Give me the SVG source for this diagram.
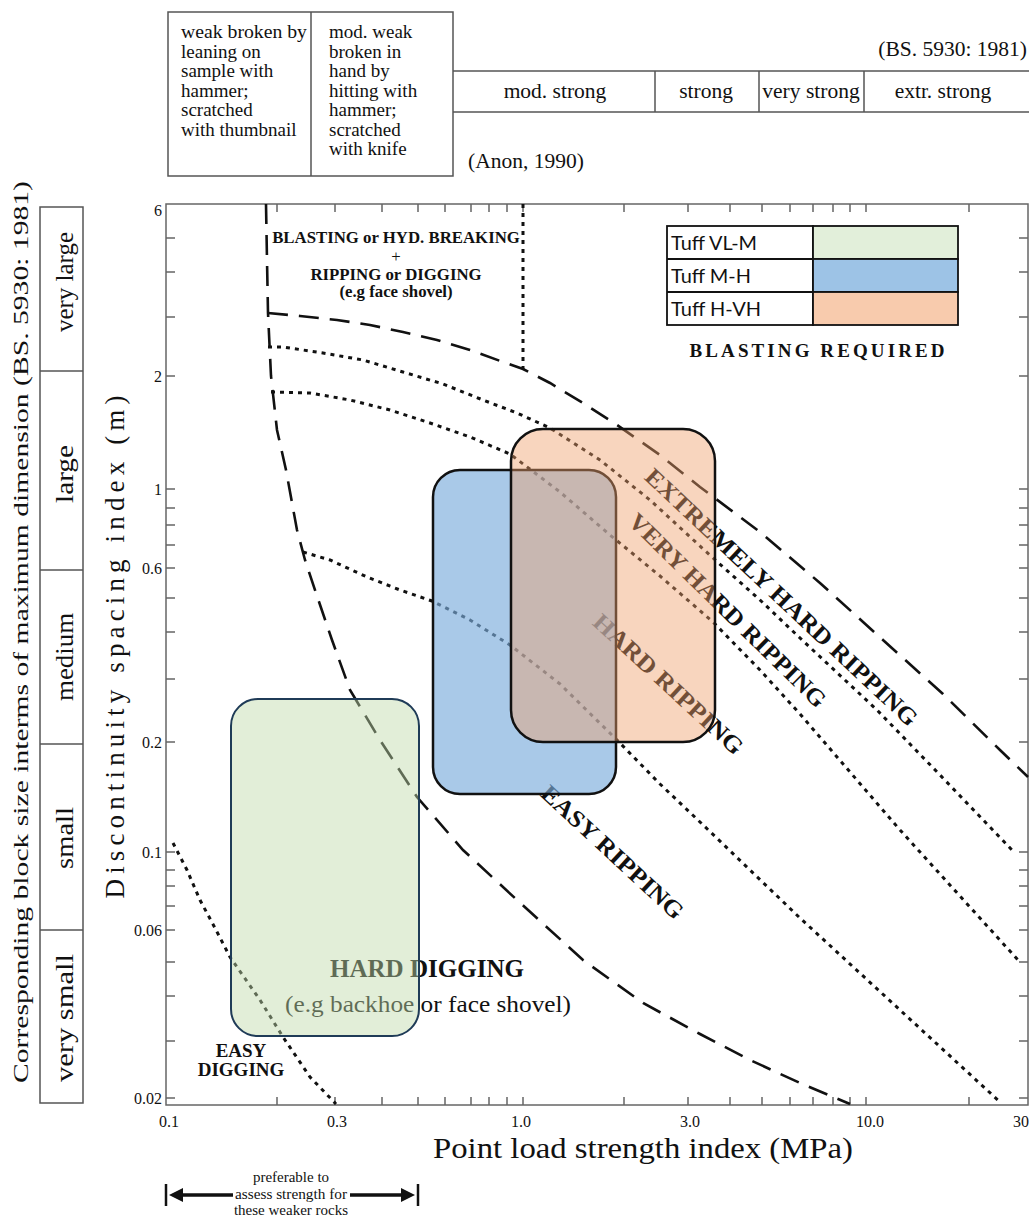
<svg xmlns="http://www.w3.org/2000/svg" width="1029" height="1225" viewBox="0 0 1029 1225">
<style>
text { font-family: "Liberation Serif", "Times New Roman", serif; fill: #111; }
.sans { font-family: Lato, "Liberation Sans", sans-serif; }
.grid { stroke: #555; stroke-width: 1.5; fill: none; }
.tick { stroke: #666; stroke-width: 1.5; fill: none; }
.dash { fill: none; stroke: #111; stroke-width: 2.6; stroke-dasharray: 20 11; }
.dot { fill: none; stroke: #111; stroke-width: 3; stroke-dasharray: 4 5; }
.b { font-weight: bold; }
.mid { text-anchor: middle; }
</style>
<rect width="1029" height="1225" fill="#fff"/>

<g id="strength-table">
  <rect x="168" y="12" width="285" height="164" class="grid"/>
  <line x1="311" y1="12" x2="311" y2="176" class="grid"/>
  <line x1="453" y1="71" x2="1029" y2="71" class="grid"/>
  <line x1="453" y1="112" x2="1029" y2="112" class="grid"/>
  <line x1="655" y1="71" x2="655" y2="112" class="grid"/>
  <line x1="759" y1="71" x2="759" y2="112" class="grid"/>
  <line x1="864" y1="71" x2="864" y2="112" class="grid"/>
  <g font-size="19">
    <text x="181" y="38" textLength="126" lengthAdjust="spacingAndGlyphs">weak broken by</text>
    <text x="181" y="57.5">leaning on</text>
    <text x="181" y="77">sample with</text>
    <text x="181" y="96.5">hammer;</text>
    <text x="181" y="116">scratched</text>
    <text x="181" y="135.5">with thumbnail</text>
    <text x="329" y="38">mod. weak</text>
    <text x="329" y="57.5">broken in</text>
    <text x="329" y="77">hand by</text>
    <text x="329" y="96.5">hitting with</text>
    <text x="329" y="116">hammer;</text>
    <text x="329" y="135.5">scratched</text>
    <text x="329" y="155">with knife</text>
  </g>
  <g font-size="21.5">
    <text x="1027" y="56" text-anchor="end">(BS. 5930: 1981)</text>
    <text x="555" y="98" class="mid">mod. strong</text>
    <text x="706" y="98" class="mid">strong</text>
    <text x="811" y="98" class="mid">very strong</text>
    <text x="943" y="98" class="mid">extr. strong</text>
    <text x="468" y="168">(Anon, 1990)</text>
  </g>
</g>

<g id="size-table">
  <rect x="40" y="207" width="43" height="896" class="grid"/>
  <line x1="40" y1="371" x2="83" y2="371" class="grid"/>
  <line x1="40" y1="570" x2="83" y2="570" class="grid"/>
  <line x1="40" y1="744" x2="83" y2="744" class="grid"/>
  <line x1="40" y1="930" x2="83" y2="930" class="grid"/>
  <g font-size="25" text-anchor="middle">
    <text transform="translate(73,282) rotate(-90)" textLength="100" lengthAdjust="spacingAndGlyphs">very large</text>
    <text transform="translate(73,474) rotate(-90)" textLength="58" lengthAdjust="spacingAndGlyphs">large</text>
    <text transform="translate(73,657) rotate(-90)" textLength="88" lengthAdjust="spacingAndGlyphs">medium</text>
    <text transform="translate(73,838) rotate(-90)" textLength="62" lengthAdjust="spacingAndGlyphs">small</text>
    <text transform="translate(73,1018) rotate(-90)" textLength="128" lengthAdjust="spacingAndGlyphs">very small</text>
  </g>
  <text transform="translate(28,632) rotate(-90)" font-size="22" text-anchor="middle" textLength="902" lengthAdjust="spacingAndGlyphs">Corresponding block size interms of maximum dimension (BS. 5930: 1981)</text>
</g>

<g id="axes">
  <rect x="166" y="204" width="862" height="901" class="tick"/>
  <path class="tick" d="M166 238h9M166 272h9M166 317h9M166 376h9M166 489h9M166 508h9M166 525h9M166 545h9M166 568h9M166 598h9M166 632h9M166 679h9M166 742h9M166 852h9M166 870h9M166 886h9M166 906h9M166 930h9M166 962h9M166 996h9M166 1041h9M166 1098h9"/>
  <path class="tick" d="M1028 238h-9M1028 272h-9M1028 317h-9M1028 376h-9M1028 489h-9M1028 508h-9M1028 525h-9M1028 545h-9M1028 568h-9M1028 598h-9M1028 632h-9M1028 679h-9M1028 742h-9M1028 852h-9M1028 870h-9M1028 886h-9M1028 906h-9M1028 930h-9M1028 962h-9M1028 996h-9M1028 1041h-9M1028 1098h-9"/>
  <path class="tick" d="M277 1105v-8M335 1105v-8M382 1105v-8M418 1105v-8M445 1105v-8M471 1105v-8M489 1105v-8M507 1105v-8M523 1105v-8M624 1105v-8M688 1105v-8M730 1105v-8M762 1105v-8M790 1105v-8M813 1105v-8M833 1105v-8M850 1105v-8M866 1105v-8M969 1105v-8"/>
  <path class="tick" d="M277 204v8M335 204v8M382 204v8M418 204v8M445 204v8M471 204v8M489 204v8M507 204v8M523 204v8M624 204v8M688 204v8M730 204v8M762 204v8M790 204v8M813 204v8M833 204v8M850 204v8M866 204v8M969 204v8"/>
  <g font-size="16" text-anchor="end">
    <text x="162" y="216">6</text>
    <text x="162" y="382">2</text>
    <text x="162" y="495">1</text>
    <text x="162" y="574">0.6</text>
    <text x="162" y="748">0.2</text>
    <text x="162" y="858">0.1</text>
    <text x="162" y="936">0.06</text>
    <text x="162" y="1104">0.02</text>
  </g>
  <g font-size="16" text-anchor="middle">
    <text x="169" y="1127">0.1</text>
    <text x="337" y="1127">0.3</text>
    <text x="521" y="1127">1.0</text>
    <text x="690" y="1127">3.0</text>
    <text x="870" y="1127">10.0</text>
    <text x="1021" y="1127">30</text>
  </g>
  <text x="643" y="1158" font-size="30" text-anchor="middle" textLength="420" lengthAdjust="spacingAndGlyphs">Point load strength index (MPa)</text>
  <text transform="translate(124,647) rotate(-90)" font-size="27" text-anchor="middle" textLength="503" lengthAdjust="spacing">Discontinuity spacing index (m)</text>
</g>

<g id="connectors">
  <polyline class="dash" points="266,204 267,260 268,313 271,376 277,430 286,470 297,530 305,560 316,593 332,640 350,690 380,740 417,797 463,850 517,900 583,960 643,1003 700,1034 750,1060 800,1083 850,1104"/>
  <polyline class="dash" points="268,313 300,316 337,320 370,325 403,332 437,340 470,350 503,362 523,369 550,383 583,403 617,425 660,455 700,487 760,532 820,583 883,640 943,694 1000,750 1028,777"/>
  <polyline class="dot" points="268,347 283,347 323,353 363,360 403,372 443,384 483,400 517,413 550,428 600,460 650,500 713,558 760,600 800,638 877,710 940,775 1012,850"/>
  <polyline class="dot" points="271,392 310,393 350,400 390,410 430,423 470,437 510,454 560,492 610,535 660,576 713,622 760,670 800,714 900,830 1018,960"/>
  <polyline class="dot" points="303,552 330,560 367,577 400,590 432,601 470,620 510,645 560,684 617,740 660,784 700,822 800,918 900,1010 1000,1102"/>
  <polyline class="dot" points="173,843 187,870 200,900 215,928 230,957 260,1000 283,1037 310,1077 336,1104"/>
  <line x1="523" y1="204" x2="523" y2="369" class="dot" stroke-width="2.6"/>
</g>

<g id="zone-labels">
  <g class="b" font-size="16.8" text-anchor="middle">
    <text x="396" y="243">BLASTING or HYD. BREAKING</text>
    <text x="396" y="262" font-weight="normal" fill="#555">+</text>
    <text x="396" y="280">RIPPING or DIGGING</text>
    <text x="396" y="297">(e.g face shovel)</text>
  </g>
  <g class="b" font-size="24" text-anchor="middle">
    <text transform="translate(776,603) rotate(43.2)" textLength="364" lengthAdjust="spacingAndGlyphs">EXTREMELY HARD RIPPING</text>
    <text transform="translate(722,616) rotate(44.4)" textLength="266" lengthAdjust="spacingAndGlyphs">VERY HARD RIPPING</text>
    <text transform="translate(663,690) rotate(42.7)" textLength="195" lengthAdjust="spacingAndGlyphs">HARD RIPPING</text>
    <text transform="translate(607,858) rotate(42.8)" textLength="185" lengthAdjust="spacingAndGlyphs">EASY RIPPING</text>
  </g>
  <text x="427" y="977" class="b mid" font-size="25" textLength="194" lengthAdjust="spacingAndGlyphs">HARD DIGGING</text>
  <text x="428" y="1012" class="mid" font-size="24" textLength="286" lengthAdjust="spacingAndGlyphs">(e.g backhoe or face shovel)</text>
  <text x="241" y="1057" class="b mid" font-size="19">EASY</text>
  <text x="241" y="1076" class="b mid" font-size="19">DIGGING</text>
  <text x="817" y="357" class="b mid" font-size="19" textLength="255" lengthAdjust="spacing">BLASTING REQUIRED</text>
</g>

<g id="tuff-boxes">
  <rect id="box-vl-m" x="231" y="699" width="188" height="337" rx="27" fill="#bedaa9" fill-opacity="0.45" stroke="#1f3b57" stroke-width="2"/>
  <rect id="box-m-h" x="433" y="470" width="183" height="324" rx="27" fill="#7bacdc" fill-opacity="0.65" stroke="#111" stroke-width="2.5"/>
  <rect id="box-h-vh" x="511" y="429" width="204" height="313" rx="32" fill="#ef9f6b" fill-opacity="0.44" stroke="#111" stroke-width="2.5"/>
</g>

<g id="legend">
  <rect x="667" y="226" width="146" height="99" fill="#fff" stroke="#111" stroke-width="1.8"/>
  <rect x="813" y="226" width="145" height="33" fill="#e2efda" stroke="#111" stroke-width="1.8"/>
  <rect x="813" y="259" width="145" height="33" fill="#9dc3e6" stroke="#111" stroke-width="1.8"/>
  <rect x="813" y="292" width="145" height="33" fill="#f8cbad" stroke="#111" stroke-width="1.8"/>
  <line x1="667" y1="259" x2="813" y2="259" stroke="#111" stroke-width="1.8"/>
  <line x1="667" y1="292" x2="813" y2="292" stroke="#111" stroke-width="1.8"/>
  <g class="sans" font-size="20">
    <text x="671" y="250" class="sans" textLength="86" lengthAdjust="spacingAndGlyphs">Tuff VL-M</text>
    <text x="671" y="283" class="sans" textLength="80" lengthAdjust="spacingAndGlyphs">Tuff M-H</text>
    <text x="671" y="316" class="sans" textLength="90" lengthAdjust="spacingAndGlyphs">Tuff H-VH</text>
  </g>
</g>

<g id="weak-rock-note">
  <line x1="166" y1="1184" x2="166" y2="1206" stroke="#111" stroke-width="2.5"/>
  <line x1="418" y1="1184" x2="418" y2="1206" stroke="#111" stroke-width="2.5"/>
  <line x1="180" y1="1195" x2="233" y2="1195" stroke="#111" stroke-width="3.5"/>
  <polygon points="169,1195 183,1188 183,1202" fill="#111"/>
  <line x1="350" y1="1195" x2="403" y2="1195" stroke="#111" stroke-width="3.5"/>
  <polygon points="415,1195 401,1188 401,1202" fill="#111"/>
  <g font-size="15" text-anchor="middle">
    <text x="291" y="1182">preferable to</text>
    <text x="291" y="1199" textLength="112" lengthAdjust="spacingAndGlyphs">assess strength for</text>
    <text x="291" y="1215">these weaker rocks</text>
  </g>
</g>
</svg>
